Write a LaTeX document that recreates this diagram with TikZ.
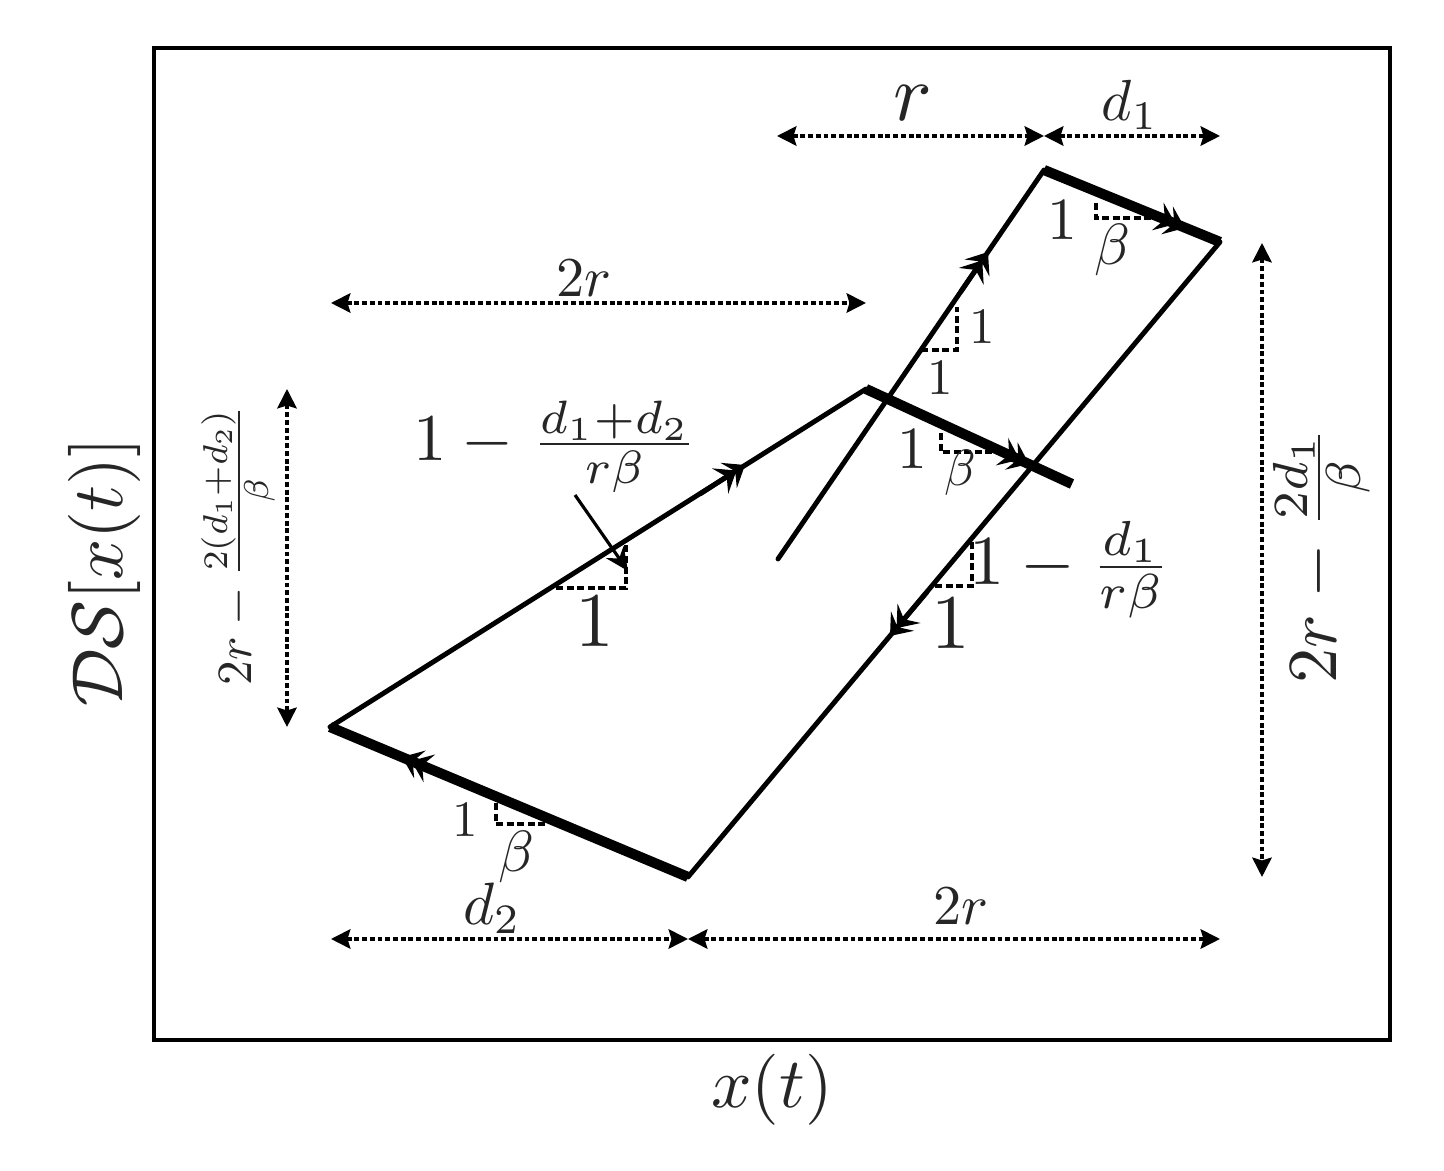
\documentclass[tikz,border=0pt]{standalone}
\usepackage{color}
\usepackage{amsmath}
\usetikzlibrary{arrows.meta}
\tikzset{
	flowline/.style={black, line width=1.4pt, line cap=round, line join=round},
	heavyline/.style={black, line width=2.9pt},
	flowhead/.style={black, line width=1.4pt, -{Stealth[length=5.5pt,width=8.5pt,inset=2.2pt,sep=-2.6pt]Stealth[length=5.5pt,width=8.5pt,inset=2.2pt]}},
	dimline/.style={black, line width=1pt, dash pattern=on 1.4pt off 0.8pt, {Stealth[length=5.5pt,width=5.5pt,inset=0.8pt]}-{Stealth[length=5.5pt,width=5.5pt,inset=0.8pt]}},
	slopeline/.style={black, line width=1pt, dash pattern=on 2pt off 1pt},
	dimlabel/.style={inner sep=0pt, text=black!85}
}
\begin{document}
\begin{tikzpicture}[x=0.01cm, y=-0.01cm]
		\useasboundingbox (0, 0) rectangle (1444, 1171);
		\draw [black, line width=0.9pt] (154, 48) rectangle (1390, 1040);
		% corners of the loop
		\coordinate (start) at (778, 559);
		\coordinate (upper) at (1044, 170);
		\coordinate (right) at (1220, 242);
		\coordinate (bottom) at (688, 877);
		\coordinate (left) at (330, 727);
		\coordinate (peak) at (866, 389);
		\coordinate (stop) at (1072, 484);
		\draw [flowline] (start) -- (upper);
		\draw [heavyline] (upper) -- (right);
		\draw [flowline] (right) -- (bottom);
		\draw [heavyline] (bottom) -- (left);
		\draw [flowline] (left) -- (peak);
		\draw [heavyline] (peak) -- (stop);
		% heads along the loop
		\coordinate (headA) at (745, 465);
		\coordinate (tailA) at (700, 494);
		\coordinate (headB) at (988, 252);
		\coordinate (tailB) at (960.6, 292);
		\coordinate (headC) at (1185, 228);
		\coordinate (tailC) at (1140, 209);
		\coordinate (headD) at (1029, 464);
		\coordinate (tailD) at (985, 444);
		\coordinate (headE) at (890, 636);
		\coordinate (tailE) at (927, 592);
		\coordinate (headF) at (402, 757);
		\coordinate (tailF) at (450, 777);
		\draw [flowhead] (tailA) -- (headA);
		\draw [flowhead] (tailB) -- (headB);
		\draw [flowhead] (tailC) -- (headC);
		\draw [flowhead] (tailD) -- (headD);
		\draw [flowhead] (tailE) -- (headE);
		\draw [flowhead] (tailF) -- (headF);
		% slope triangles
		\draw [slopeline] (1096, 203) -- (1096, 218) -- (1155, 218);
		\draw [slopeline] (941, 433) -- (941, 452) -- (1000, 452);
		\draw [slopeline] (921, 350) -- (957, 350) -- (957, 307);
		\draw [slopeline] (556, 588) -- (626, 588) -- (626, 545);
		\draw [slopeline] (935, 586) -- (972, 586) -- (972, 541);
		\draw [slopeline] (496, 803) -- (496, 824) -- (548, 824);
		\coordinate (pointerA) at (575, 495);
		\coordinate (pointerB) at (628, 571);
		\draw [-{Stealth[length=6.5pt,width=6pt]}, black, line width=0.9pt] (pointerA) -- (pointerB);
		% dimensions
		\coordinate (rA) at (777, 136);
		\coordinate (rB) at (1044, 136);
		\coordinate (dA) at (1220, 136);
		\coordinate (topA) at (331, 303);
		\coordinate (topB) at (866, 303);
		\coordinate (sideA) at (287, 389);
		\coordinate (sideB) at (287, 727);
		\coordinate (farA) at (1262, 243);
		\coordinate (farB) at (1262, 877);
		\coordinate (lowA) at (331, 939);
		\coordinate (lowB) at (688, 939);
		\coordinate (lowC) at (1220, 939);
		\draw [dimline] (rA) -- (rB);
		\draw [dimline] (rB) -- (dA);
		\draw [dimline] (topA) -- (topB);
		\draw [dimline] (sideA) -- (sideB);
		\draw [dimline] (farA) -- (farB);
		\draw [dimline] (lowA) -- (lowB);
		\draw [dimline] (lowB) -- (lowC);
		% labels
		\node [dimlabel, scale=2.3] (labelr) at (913, 103) {$r$};
		\node [dimlabel, scale=1.65] (labeldone) at (1130, 105) {$d_1$};
		\node [dimlabel, scale=1.6] (labeltop) at (584, 278) {$2r$};
		\node [dimlabel, scale=1.6] (labeltwo) at (961, 906) {$2r$};
		\node [dimlabel, scale=1.7] (labeldtwo) at (492, 908) {$d_2$};
		\node [dimlabel, scale=1.65] (betaA) at (1112, 250) {$\beta$};
		\node [dimlabel, scale=1.45] (betaB) at (960, 473) {$\beta$};
		\node [dimlabel, scale=1.65] (betaC) at (516, 857) {$\beta$};
		\node [dimlabel, scale=1.7] (oneA) at (1062, 220) {$1$};
		\node [dimlabel, scale=1.45] (oneB) at (982, 327) {$1$};
		\node [dimlabel, scale=1.45] (oneC) at (940, 378) {$1$};
		\node [dimlabel, scale=1.7] (oneD) at (912, 449) {$1$};
		\node [dimlabel, scale=1.45] (oneE) at (465, 820) {$1$};
		\node [dimlabel, scale=2.2] (oneF) at (595, 622) {$1$};
		\node [dimlabel, scale=2.2] (oneG) at (951, 624) {$1$};
		\node [dimlabel, scale=1.9] (slopeA) at (555, 447) {$1-\mkern1mu\frac{d_1+d_2}{r\beta}$};
		\node [dimlabel, scale=2.0] (slopeB) at (1070, 570) {$1-\frac{d_1}{r\beta}$};
		\node [dimlabel, scale=1.4, rotate=90] (heightA) at (238, 545) {$2r-\frac{2(d_1+d_2)}{\beta}$};
		\node [dimlabel, scale=2.0, rotate=90] (heightB) at (1322, 555) {$2r-\frac{2d_1}{\beta}$};
		\node [dimlabel, scale=2.02] (xlabel) at (772, 1090) {$x(t)$};
		\node [dimlabel, scale=2.05, rotate=90] (ylabel) at (104, 572) {$\mathcal{DS}[x(t)]$};
\end{tikzpicture}
\end{document}
